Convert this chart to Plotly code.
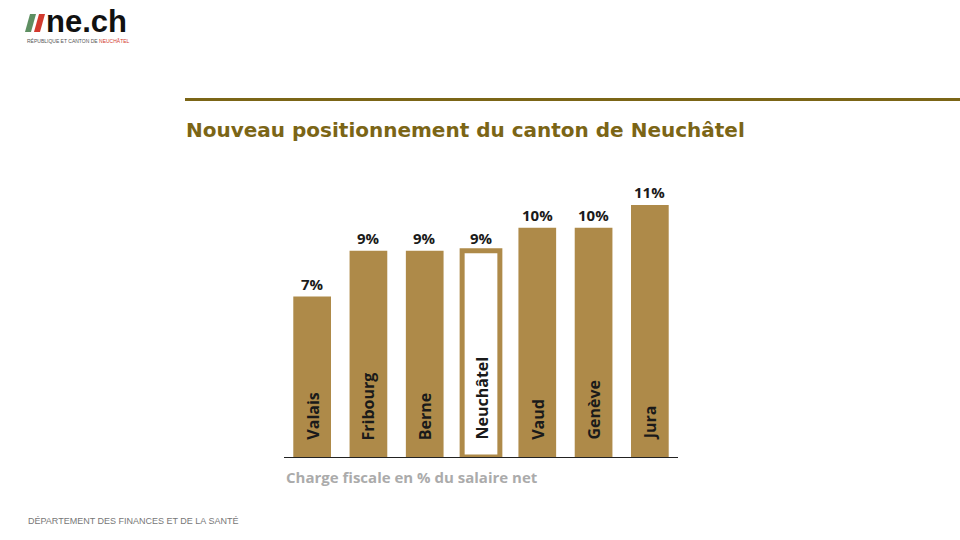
import plotly.graph_objects as go

cantons = ["Valais", "Fribourg", "Berne", "Neuchâtel", "Vaud", "Genève", "Jura"]
charge = [7, 9, 9, 9, 10, 10, 11]
highlight = "Neuchâtel"

GOLD = "#ae8a49"
OLIVE = "#7b6516"

W, H = 960, 540
def px(x):
    return x / W
def py(y):
    return 1 - y / H

fill = ["white" if c == highlight else GOLD for c in cantons]
lw = [5 if c == highlight else 0 for c in cantons]

fig = go.Figure()
fig.add_trace(go.Bar(
    x=cantons, y=charge,
    marker=dict(color=fill, line=dict(color=GOLD, width=lw)),
    hoverinfo="skip",
))

annotations = []
for c, v in zip(cantons, charge):
    annotations.append(dict(
        x=c, y=v, xref="x", yref="y", text=f"<b>{v}%</b>", showarrow=False,
        yanchor="bottom", yshift=1,
        font=dict(family="Open Sans", size=15, color="#1a1a1a"),
    ))
    annotations.append(dict(
        x=c, y=0, xref="x", yref="y", text=f"<b>{c}</b>", showarrow=False,
        textangle=-90, yanchor="bottom", xanchor="center", yshift=15,
        font=dict(family="Open Sans", size=16, color="#1a1a1a"),
    ))

# axis caption
annotations.append(dict(
    x=px(284), y=py(477), xref="paper", yref="paper", xanchor="left", yanchor="middle",
    text="<b>Charge fiscale en % du salaire net</b>", showarrow=False,
    font=dict(family="Open Sans", size=15, color="#ababab"),
))
# title
annotations.append(dict(
    x=px(184), y=py(130), xref="paper", yref="paper", xanchor="left", yanchor="middle",
    text="<b>Nouveau positionnement du canton de Neuchâtel</b>", showarrow=False,
    font=dict(family="DejaVu Sans", size=20, color=OLIVE),
))
# footer
annotations.append(dict(
    x=px(26), y=py(521), xref="paper", yref="paper", xanchor="left", yanchor="middle",
    text="DÉPARTEMENT DES FINANCES ET DE LA SANTÉ", showarrow=False,
    font=dict(family="Liberation Sans", size=9, color="#777777"),
))
# logo text
annotations.append(dict(
    x=px(45), y=py(21.5), xref="paper", yref="paper", xanchor="left", yanchor="middle",
    text="<b>ne.ch</b>", showarrow=False, borderpad=0,
    font=dict(family="Liberation Sans", size=31, color="#111111"),
))
annotations.append(dict(
    x=px(26), y=py(41), xref="paper", yref="paper", xanchor="left", yanchor="middle",
    text="RÉPUBLIQUE ET CANTON DE <span style='color:#d23a2e'>NEUCHÂTEL</span>", showarrow=False,
    borderpad=0, font=dict(family="Liberation Sans", size=5, color="#555555"),
))

shapes = [
    # top rule
    dict(type="line", xref="paper", yref="paper", x0=px(185), x1=1.0, y0=py(99.5), y1=py(99.5),
         line=dict(color=OLIVE, width=3)),
    # logo stripes
    dict(type="path", xref="paper", yref="paper",
         path=f"M {px(25)},{py(32)} L {px(31)},{py(32)} L {px(36)},{py(14)} L {px(30)},{py(14)} Z",
         fillcolor="#5e8f62", line=dict(width=0)),
    dict(type="path", xref="paper", yref="paper",
         path=f"M {px(34)},{py(32)} L {px(40)},{py(32)} L {px(45)},{py(14)} L {px(39)},{py(14)} Z",
         fillcolor="#d23a2e", line=dict(width=0)),
]

fig.update_layout(
    width=W, height=H, autosize=False,
    margin=dict(l=0, r=0, t=0, b=0),
    paper_bgcolor="white", plot_bgcolor="white",
    showlegend=False,
    bargap=0.33,
    xaxis=dict(domain=[px(284), px(678)], showline=True, linecolor="#222222", linewidth=1,
               showticklabels=False, ticks="", showgrid=False, zeroline=False),
    yaxis=dict(domain=[py(457), py(182)], range=[0, 12], visible=False, showgrid=False),
    annotations=annotations,
    shapes=shapes,
)

fig.write_html("out.html", config={"displayModeBar": False},
               post_script="document.body.style.margin='0px';document.body.style.overflow='hidden';")
